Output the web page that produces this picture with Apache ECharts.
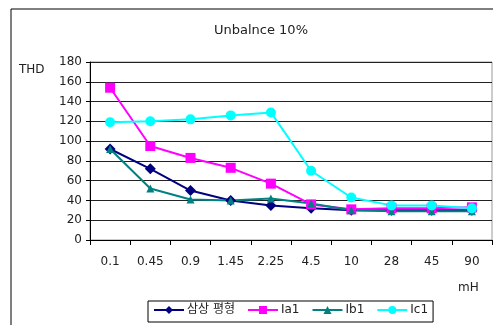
<!DOCTYPE html>
<html>
<head>
<meta charset="utf-8">
<style>
  html, body { margin: 0; padding: 0; background: #fff; }
  #chart { width: 493px; height: 325px; }
</style>
<script src="https://cdn.jsdelivr.net/npm/echarts@6/dist/echarts.min.js"></script>
</head>
<body>
<div id="chart"></div>
<script>
// Inductance steps (mH) along the x axis
const categories = ['0.1', '0.45', '0.9', '1.45', '2.25', '4.5', '10', '28', '45', '90'];

// THD readings for each case
const balanced = [92, 72, 50, 40, 35, 32, 30, 30, 30, 30];
const ia1 = [154, 95, 83, 73, 57, 36, 31, 32, 32, 33];
const ib1 = [92, 52, 41, 40, 42, 37, 30, 29, 29, 29];
const ic1 = [119, 120, 122, 126, 129, 70, 43, 35, 35, 32];

const seriesNames = ['삼상 평형', 'Ia1', 'Ib1', 'Ic1'];
const yTicks = { min: 0, max: 180, interval: 20 };

const FONT = '"DejaVu Sans", "Noto Sans CJK KR", sans-serif';

const chart = echarts.init(document.getElementById('chart'), null, { renderer: 'canvas' });

function lineSeries(name, data, color, symbol, size) {
  return {
    name: name,
    type: 'line',
    data: data,
    symbol: symbol,
    symbolSize: size,
    showSymbol: true,
    lineStyle: { color: color, width: 2 },
    itemStyle: { color: color },
    emphasis: { disabled: true },
    animation: false
  };
}

chart.setOption({
  animation: false,
  backgroundColor: '#fff',
  textStyle: { fontFamily: FONT },
  title: {
    text: 'Unbalnce 10%',
    left: 256,
    textAlign: 'center',
    top: 19,
    textStyle: { fontFamily: FONT, fontSize: 13, fontWeight: 'normal', color: '#222' }
  },
  graphic: [
    {
      type: 'rect',
      shape: { x: 11, y: 9, width: 600, height: 400 },
      style: { fill: 'none', stroke: '#000', lineWidth: 1 },
      silent: true,
      z: -1
    },
    {
      type: 'text',
      left: 19,
      top: 64,
      style: { text: 'THD', fontFamily: FONT, fontSize: 12, fill: '#222' }
    },
    {
      type: 'text',
      left: 458,
      top: 282,
      style: { text: 'mH', fontFamily: FONT, fontSize: 12, fill: '#222' }
    }
  ],
  legend: {
    data: seriesNames,
    left: 148,
    top: 301,
    padding: [3, 5, 6, 5],
    itemGap: 12,
    itemWidth: 30,
    itemHeight: 10,
    borderColor: '#000',
    borderWidth: 1,
    borderRadius: 0,
    textStyle: { fontFamily: FONT, fontSize: 12, color: '#222', padding: [0, 0, 0, -2] }
  },
  grid: {
    left: 90,
    top: 62,
    right: 1,
    bottom: 85,
    show: true,
    borderColor: '#999',
    borderWidth: 1
  },
  xAxis: {
    type: 'category',
    data: categories,
    boundaryGap: true,
    axisLine: { lineStyle: { color: '#000', width: 1 } },
    axisTick: { show: true, length: 5, inside: false, lineStyle: { color: '#000' } },
    axisLabel: { fontFamily: FONT, fontSize: 12, color: '#222', margin: 16 }
  },
  yAxis: {
    type: 'value',
    min: yTicks.min,
    max: yTicks.max,
    interval: yTicks.interval,
    axisLine: { show: true, lineStyle: { color: '#000', width: 1 } },
    axisTick: { show: true, length: 4, lineStyle: { color: '#000' } },
    axisLabel: { fontFamily: FONT, fontSize: 12, color: '#222', margin: 8 },
    splitLine: { show: true, lineStyle: { color: '#222', width: 1 } }
  },
  series: [
    lineSeries(seriesNames[0], balanced, '#000080', 'diamond', 11),
    lineSeries(seriesNames[1], ia1, '#ff00ff', 'rect', 10),
    lineSeries(seriesNames[2], ib1, '#008080', 'triangle', 8),
    lineSeries(seriesNames[3], ic1, '#00ffff', 'circle', 10)
  ]
});
</script>
</body>
</html>
